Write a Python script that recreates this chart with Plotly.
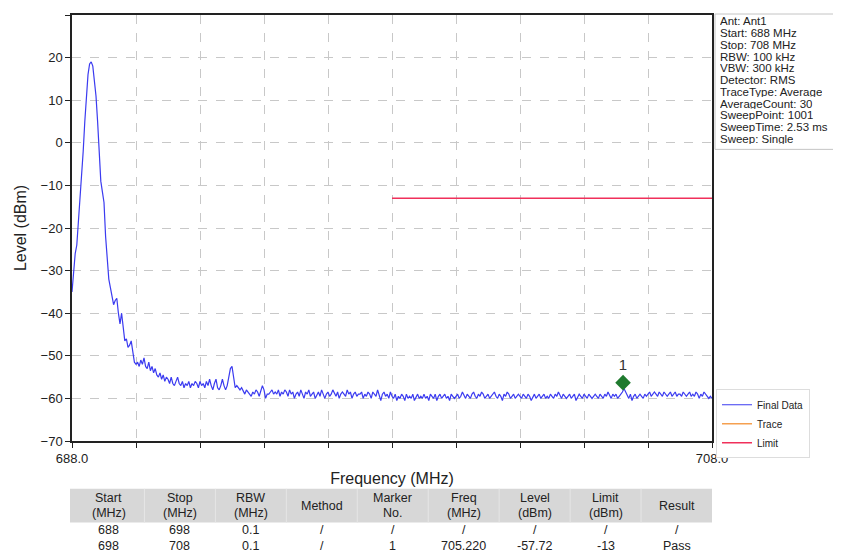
import numpy as np
import plotly.graph_objects as go

# ---------------- data ----------------
freq_start = 688.0
freq_stop = 708.0
n_points = 401
freqs = np.linspace(freq_start, freq_stop, n_points)

level_dbm = [
    # 688
    -35, -31, -26, -24, -19, -14, -9, -2, 5, 11, 16, 18.5, 19, 18, 15, 11, 5, -2, -9, -11.5,
    # 689
    -14, -22, -28, -32, -34, -36, -38, -37, -36.5, -40, -42.5, -40, -44, -46.5, -46, -48, -47.5, -46.5, -49, -51.5,
    # 690
    -52, -51.5, -52.5, -51, -52, -50.5, -52.5, -53, -51.5, -53.5, -52.5, -54, -53, -54.5, -55, -54, -55.5, -54.5, -56, -55,
    # 691
    -55.5, -56.5, -55, -56.5, -57, -56, -55, -56.5, -57, -56, -57.5, -56.5, -57, -56, -57.5, -56.5, -57, -56, -56.5, -57.5,
    # 692
    -56, -57, -56.5, -57.5, -56, -57, -55.5, -57, -58, -56.5, -55.5, -57.5, -58, -57, -55.5, -57, -58, -57, -55, -53,
    # 693
    -52.5, -55, -57.5, -57, -57.5, -58, -57.5, -58.5, -59, -58, -58.5, -59, -59.5, -58.5, -59, -58, -58.5, -59.5, -58.5, -57,
    # 694
    -58, -60, -59, -59, -58.5, -58, -59, -58.5, -59, -58, -59.5, -58.5, -59, -58, -58.5, -59.5, -58, -59, -58.5, -60,
    # 695
    -59, -58.5, -59.5, -58, -59, -60, -58.5, -59, -58, -59.5, -59, -58.5, -60, -59, -58.5, -59.5, -58, -59, -60, -59,
    # 696
    -58.5, -59.5, -59, -58, -59, -59.5, -58.5, -60, -59, -58.5, -59, -59.5, -58, -59, -58.5, -60, -59, -58.5, -59.5, -59,
    # 697
    -59, -58.5, -60, -59, -59.5, -58.5, -59, -60, -58.5, -59, -59.5, -58, -59, -60.5, -59, -58.5, -59.5, -59, -60, -58.5,
    # 698
    -59.5, -60, -59, -60.5, -59.5, -60, -59, -59.5, -60.5, -59, -60, -59.5, -60, -59, -60.5, -59.5, -59, -60, -59.5, -60,
    # 699
    -59, -60, -59.5, -60.5, -59, -59.5, -60, -59, -60.5, -59.5, -59, -60, -59.5, -59, -60, -59.5, -60.5, -59, -59.5, -60,
    # 700
    -59.5, -59, -60, -59.5, -58.5, -59.5, -60, -59, -59.5, -60, -59, -58.5, -59.5, -60, -59, -59.5, -58.5, -59, -60, -59.5,
    # 701
    -59, -60, -59.5, -59, -58.5, -59.5, -60, -59, -59.5, -60.5, -59, -59.5, -58.5, -59, -60, -59.5, -59, -60, -59.5, -59,
    # 702
    -59.5, -60, -59, -59.5, -60, -59, -59.5, -60.5, -59.5, -59, -60, -59.5, -59, -60, -59.5, -59, -60, -59.5, -60, -59,
    # 703
    -59.5, -60, -59, -59.5, -58.5, -59.5, -60, -59, -59.5, -60, -59.5, -59, -60, -59.5, -59, -60.5, -59.5, -59, -59.5, -60,
    # 704
    -59, -59.5, -60, -59, -59.5, -60, -59.5, -59, -59.5, -60, -59, -59.5, -60, -59, -59.5, -58.5, -59.5, -60, -59, -59.5,
    # 705
    -59, -60, -59.5, -59, -58.5, -57.7, -58.5, -59.5, -60, -59, -60.5, -59.5, -59, -60, -59.5, -59, -59.5, -60, -59, -59.5,
    # 706
    -59, -58.5, -59.5, -59, -58.5, -59, -59.5, -58.5, -59, -59.5, -58.5, -59, -59.5, -59, -58.5, -59.5, -59, -58.5, -59.5, -59,
    # 707
    -59, -59.5, -58.5, -59, -59.5, -59, -58.5, -59.5, -59, -59.5, -58.5, -59, -60, -59, -59.5, -58.5, -59, -59.5, -60, -59.5,
    # 708
    -60,
]

limit_freqs = [698.0, 708.0]
limit_levels = [-13.0, -13.0]

marker_freq = [705.220]
marker_level_drawn = [-56.3]   # position of the diamond as drawn in the picture
marker_label = ["1"]

x_tick_vals = [688, 690, 692, 694, 696, 698, 700, 702, 704, 706, 708]
x_tick_text = ["688.0", "", "", "", "", "", "", "", "", "", "708.0"]
y_tick_vals = [-70, -60, -50, -40, -30, -20, -10, 0, 10, 20, 30]

info_lines = [
    "Ant: Ant1", "Start: 688 MHz", "Stop: 708 MHz", "RBW: 100 kHz", "VBW: 300 kHz",
    "Detector: RMS", "TraceType: Average", "AverageCount: 30", "SweepPoint: 1001",
    "SweepTime: 2.53 ms", "Sweep: Single",
]

table_headers = ["Start<br>(MHz)", "Stop<br>(MHz)", "RBW<br>(MHz)", "Method", "Marker<br>No.",
                 "Freq<br>(MHz)", "Level<br>(dBm)", "Limit<br>(dBm)", "Result"]
table_row1 = ["688", "698", "0.1", "/", "/", "/", "/", "/", "/"]
table_row2 = ["698", "708", "0.1", "/", "1", "705.220", "-57.72", "-13", "Pass"]

# ---------------- layout geometry (figure pixels; page body adds 8px offset) ----------------
FONT = "Liberation Sans, Arial, sans-serif"
TXT = "#222222"
OFF = 8
W, H = 841 - OFF, 554 - OFF
ML, MT = 72 - OFF, 13 - OFF
PR, PB = 712 - OFF, 441 - OFF
MR, MB = W - PR, H - PB
PW, PH = PR - ML, PB - MT


def px(x):
    return (x - OFF - ML) / PW


def py(y):
    return 1 - (y - OFF - MT) / PH


fig = go.Figure()

fig.add_trace(go.Scatter(
    x=freqs, y=level_dbm, mode="lines", name="Final Data",
    line=dict(color="#3b3bf0", width=1.2),
))
fig.add_trace(go.Scatter(
    x=[None], y=[None], mode="lines", name="Trace",
    line=dict(color="#f5a050", width=1.5),
))
fig.add_trace(go.Scatter(
    x=limit_freqs, y=limit_levels, mode="lines", name="Limit",
    line=dict(color="#f0305a", width=1.5),
))
fig.add_trace(go.Scatter(
    x=marker_freq, y=marker_level_drawn, mode="markers+text", text=marker_label,
    textposition="top center", textfont=dict(family=FONT, size=15, color="#333333"),
    marker=dict(symbol="diamond", size=12, color="#1f7a2e"),
    showlegend=False, cliponaxis=False,
))

fig.update_layout(
    width=W, height=H,
    margin=dict(l=ML, r=MR, t=MT, b=MB, pad=0),
    paper_bgcolor="white", plot_bgcolor="white",
    font=dict(family=FONT, size=12, color=TXT),
    showlegend=True,
    legend=dict(
        x=px(716), y=py(389), xanchor="left", yanchor="top",
        bgcolor="white", bordercolor="#dddddd", borderwidth=1,
        font=dict(family=FONT, size=10, color=TXT),
        itemwidth=30, tracegroupgap=0,
    ),
    xaxis=dict(
        range=[freq_start, freq_stop],
        tickvals=x_tick_vals, ticktext=x_tick_text, ticks="outside", ticklen=5,
        tickcolor=TXT, showline=True, linecolor=TXT, linewidth=1.5, mirror=True,
        showgrid=True, gridcolor="#c8c8c8", griddash="dash", gridwidth=1,
        zeroline=False, tickfont=dict(family=FONT, size=13, color=TXT),
        title=dict(text="Frequency (MHz)", font=dict(family=FONT, size=16, color=TXT), standoff=7),
    ),
    yaxis=dict(
        range=[-70, 30],
        tickvals=y_tick_vals, ticks="outside", ticklen=5,
        tickcolor=TXT, showline=True, linecolor=TXT, linewidth=1.5, mirror=True,
        showgrid=True, gridcolor="#c8c8c8", griddash="dash", gridwidth=1,
        zeroline=False, tickfont=dict(family=FONT, size=13, color=TXT),
        title=dict(text="Level (dBm)", font=dict(family=FONT, size=16, color=TXT), standoff=10),
    ),
)

# ---- info box (top right) ----
fig.add_shape(type="rect", xref="paper", yref="paper",
              x0=px(715), x1=px(850), y0=py(148), y1=py(12),
              line=dict(color="#c4c4c4", width=1), fillcolor="white", layer="below")
for i, line in enumerate(info_lines):
    fig.add_annotation(xref="paper", yref="paper", x=px(719), y=py(19 + 11.8 * i),
                       xanchor="left", yanchor="middle", showarrow=False, text=line,
                       height=11, borderpad=0,
                       font=dict(family=FONT, size=11.5, color=TXT))

# ---- results table (bottom) ----
n_cols = len(table_headers)
tbl_left, tbl_right = 70, 712
col_w = (712 - 73.5) / n_cols
fig.add_shape(type="rect", xref="paper", yref="paper",
              x0=px(tbl_left), x1=px(tbl_right), y0=py(523), y1=py(489),
              line=dict(width=0), fillcolor="#d7d7d7", layer="below")
for i in range(1, n_cols):
    xb = 73.5 + col_w * i
    fig.add_shape(type="line", xref="paper", yref="paper",
                  x0=px(xb), x1=px(xb), y0=py(523), y1=py(489),
                  line=dict(color="#e6e6e6", width=1))
for i, (hdr, r1, r2) in enumerate(zip(table_headers, table_row1, table_row2)):
    xc = 73.5 + col_w * (i + 0.5)
    if "<br>" in hdr:
        l1, l2 = hdr.split("<br>")
        fig.add_annotation(xref="paper", yref="paper", x=px(xc), y=py(498), text=l1,
                           showarrow=False, xanchor="center", yanchor="middle",
                           font=dict(family=FONT, size=12.5, color=TXT))
        fig.add_annotation(xref="paper", yref="paper", x=px(xc), y=py(513), text=l2,
                           showarrow=False, xanchor="center", yanchor="middle",
                           font=dict(family=FONT, size=12.5, color=TXT))
    else:
        fig.add_annotation(xref="paper", yref="paper", x=px(xc), y=py(506), text=hdr,
                           showarrow=False, xanchor="center", yanchor="middle",
                           font=dict(family=FONT, size=12.5, color=TXT))
    fig.add_annotation(xref="paper", yref="paper", x=px(xc), y=py(530), text=r1,
                       showarrow=False, xanchor="center", yanchor="middle",
                       font=dict(family=FONT, size=12.5, color=TXT))
    fig.add_annotation(xref="paper", yref="paper", x=px(xc), y=py(546), text=r2,
                       showarrow=False, xanchor="center", yanchor="middle",
                       font=dict(family=FONT, size=12.5, color=TXT))

fig.write_html("out.html")
